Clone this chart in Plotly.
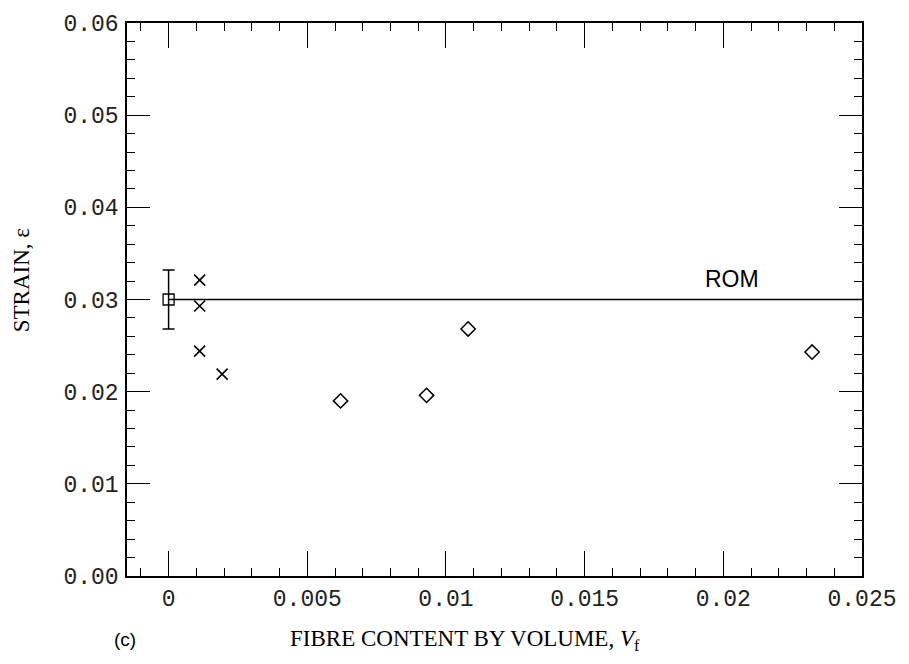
import plotly.graph_objects as go

# ---- data ----
matrix_vf = [0.0]
matrix_strain = [0.0300]
matrix_err_plus = [0.0032]
matrix_err_minus = [0.0032]

cross_vf = [0.00112, 0.00112, 0.00112, 0.00193]
cross_strain = [0.0321, 0.0293, 0.0244, 0.0219]

diamond_vf = [0.0062, 0.0093, 0.0108, 0.0232]
diamond_strain = [0.0190, 0.0196, 0.0268, 0.0243]

rom_vf = [0.0, 0.025]
rom_strain = [0.0300, 0.0300]

x_tickvals = [0, 0.005, 0.01, 0.015, 0.02, 0.025]
x_ticktext = ["0", "0.005", "0.01", "0.015", "0.02", "0.025"]
y_tickvals = [0, 0.01, 0.02, 0.03, 0.04, 0.05, 0.06]
y_ticktext = ["0.00", "0.01", "0.02", "0.03", "0.04", "0.05", "0.06"]

fig = go.Figure()

fig.add_trace(go.Scatter(x=rom_vf, y=rom_strain, mode="lines",
                         line=dict(color="black", width=1.5), showlegend=False,
                         hoverinfo="skip"))

fig.add_trace(go.Scatter(
    x=matrix_vf, y=matrix_strain, mode="markers",
    marker=dict(symbol="square-open", size=11, color="black", line=dict(width=1.3)),
    error_y=dict(type="data", symmetric=False, array=matrix_err_plus,
                 arrayminus=matrix_err_minus, color="black", thickness=1.5, width=6),
    showlegend=False))

fig.add_trace(go.Scatter(
    x=cross_vf, y=cross_strain, mode="markers",
    marker=dict(symbol="x-thin-open", size=11, color="black", line=dict(width=1.6, color="black")),
    showlegend=False))

fig.add_trace(go.Scatter(
    x=diamond_vf, y=diamond_strain, mode="markers",
    marker=dict(symbol="diamond-open", size=11, color="black", line=dict(width=1.5)),
    showlegend=False))

tick_font = dict(family="Liberation Mono", size=23, color="#222")

fig.update_xaxes(
    range=[-0.0015, 0.025], tickvals=x_tickvals, ticktext=x_ticktext,
    ticks="inside", ticklen=25, tickwidth=1.2, tickcolor="black",
    minor=dict(ticks="inside", ticklen=8, tickwidth=1.2, tickcolor="black", dtick=0.001),
    showline=True, linecolor="black", linewidth=1.5, mirror="allticks",
    showgrid=False, zeroline=False, tickfont=tick_font, ticklabelstandoff=1)

fig.update_yaxes(
    range=[0, 0.06], tickvals=y_tickvals, ticktext=y_ticktext,
    ticks="inside", ticklen=23, tickwidth=1.2, tickcolor="black",
    minor=dict(ticks="inside", ticklen=8, tickwidth=1.2, tickcolor="black", dtick=0.002),
    showline=True, linecolor="black", linewidth=1.5, mirror="allticks",
    showgrid=False, zeroline=False, tickfont=tick_font, ticklabelstandoff=2)

fig.add_annotation(x=0.0203, y=0.0322, xref="x", yref="y", text="ROM", showarrow=False,
                   font=dict(family="Liberation Sans", size=23, color="black"))

fig.add_annotation(x=-0.144, y=0.535, xref="paper", yref="paper", text="STRAIN, ε",
                   textangle=-90, showarrow=False, xanchor="center", yanchor="middle",
                   font=dict(family="Liberation Serif", size=23, color="black"))

fig.add_annotation(x=0.46, y=-0.115, xref="paper", yref="paper",
                   text="FIBRE CONTENT BY VOLUME, <i>V</i><sub>f</sub>", showarrow=False,
                   xanchor="center", yanchor="middle",
                   font=dict(family="Liberation Serif", size=23, color="black"))

fig.add_annotation(x=-0.003, y=-0.115, xref="paper", yref="paper", text="(c)",
                   showarrow=False, xanchor="center", yanchor="middle",
                   font=dict(family="Liberation Sans", size=19, color="black"))

fig.update_layout(
    width=909, height=664,
    margin=dict(l=127, r=41, t=20, b=88),
    plot_bgcolor="white", paper_bgcolor="white",
)

fig.write_html("out.html")
